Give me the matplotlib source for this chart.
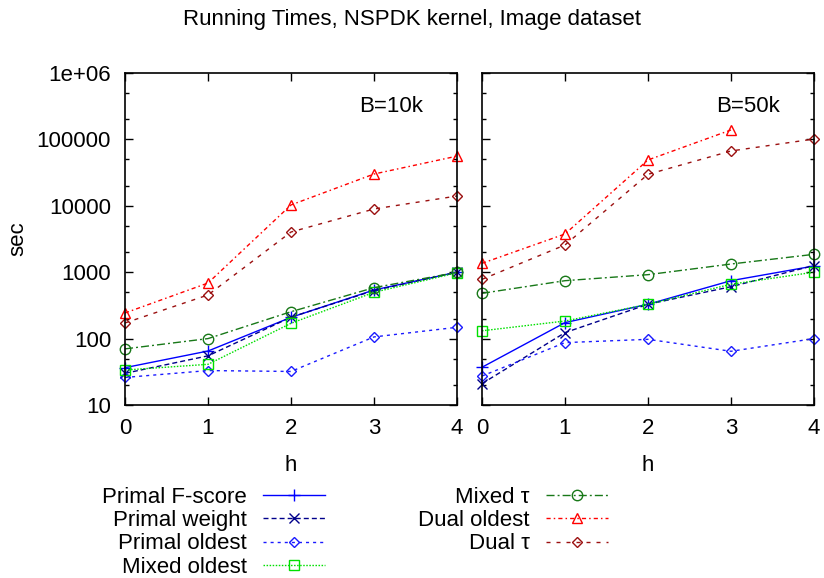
import matplotlib
matplotlib.use("Agg")
import matplotlib.pyplot as plt
import matplotlib.ticker as mticker

plt.rcParams['font.family'] = ['Liberation Sans', 'DejaVu Sans']
FS = 16

h = [0, 1, 2, 3, 4]

series_names = ["Primal F-score", "Primal weight", "Primal oldest", "Mixed oldest",
                "Mixed τ", "Dual oldest", "Dual τ"]

# B = 10k panel
b10_primal_fscore = [36.5, 65, 209, 540, 1000]
b10_primal_weight = [30, 55, 210, 530, 1000]
b10_primal_oldest = [26, 33, 32, 106, 148]
b10_mixed_oldest = [33.6, 41, 170, 498, 980]
b10_mixed_tau = [70, 100, 254, 585, 995]
b10_dual_oldest = [243, 687, 10300, 30100, 56000]
b10_dual_tau = [172, 454, 4030, 8950, 14050]

# B = 50k panel
b50_primal_fscore = [37, 174, 329, 745, 1240]
b50_primal_weight = [21, 123, 329, 605, 1260]
b50_primal_oldest = [27.3, 87, 97.5, 64.4, 100]
b50_mixed_oldest = [131, 184, 329, 658, 1000]
b50_mixed_tau = [481, 745, 918, 1328, 1859]
b50_dual_oldest = [1360, 3760, 49000, 138700]
b50_dual_tau = [780, 2570, 29800, 66900, 101400]

panels = [
    ("B=10k", [b10_primal_fscore, b10_primal_weight, b10_primal_oldest, b10_mixed_oldest,
               b10_mixed_tau, b10_dual_oldest, b10_dual_tau]),
    ("B=50k", [b50_primal_fscore, b50_primal_weight, b50_primal_oldest, b50_mixed_oldest,
               b50_mixed_tau, b50_dual_oldest, b50_dual_tau]),
]

styles = [
    dict(color="#0000ff", linestyle="-", marker="+", ms=8),
    dict(color="#00008b", linestyle=(0, (3.6, 2.2)), marker="x", ms=6.5),
    dict(color="#1a1aff", linestyle=(0, (2.2, 2.9)), marker="D", ms=5),
    dict(color="#00e000", linestyle=(0, (1.1, 1.1)), marker="s", ms=7.5),
    dict(color="#187818", linestyle=(0, (5.8, 2.2, 1.4, 2.2)), marker="o", ms=7.5),
    dict(color="#ff0000", linestyle=(0, (3, 2.2, 1.1, 2.2)), marker="^", ms=7.5),
    dict(color="#9b1010", linestyle=(0, (2.9, 4.3)), marker="D", ms=5),
]

fig = plt.figure(figsize=(8.24, 5.78), dpi=100)
ax_w = 332 / 824
ax_h = 332 / 578
bottom = 1 - 405 / 578
axes = [fig.add_axes([125 / 824, bottom, ax_w, ax_h]),
        fig.add_axes([482 / 824, bottom, ax_w, ax_h])]

handles = []
for pi, (ax, (btxt, data)) in enumerate(zip(axes, panels)):
    for si, (vals, st) in enumerate(zip(data, styles)):
        ln, = ax.plot(h[:len(vals)], vals, color=st["color"], linestyle=st["linestyle"],
                      lw=1.0, marker=st["marker"], markersize=st["ms"],
                      markeredgewidth=1.0, markerfacecolor="none",
                      markeredgecolor=st["color"], label=series_names[si], clip_on=False)
        if pi == 0:
            handles.append(ln)
    ax.set_yscale("log")
    ax.set_ylim(10, 1e6)
    ax.set_xlim(0, 4)
    ax.set_xticks(h)
    ax.yaxis.set_major_locator(mticker.LogLocator(base=10, numticks=10))
    ax.yaxis.set_minor_locator(mticker.LogLocator(base=10, subs=(2.0, 5.0), numticks=10))
    ax.yaxis.set_minor_formatter(mticker.NullFormatter())
    ax.tick_params(which="both", direction="in", top=True, right=True, labelsize=FS,
                   width=1.0, colors="black")
    ax.tick_params(which="major", length=6)
    ax.tick_params(which="minor", length=3)
    ax.tick_params(axis="x", pad=9)
    ax.tick_params(axis="y", pad=10)
    for sp in ax.spines.values():
        sp.set_linewidth(1.2)
    ax.set_xlabel("h", fontsize=FS, labelpad=12)
    ax.text(0.898, 0.898, btxt, transform=ax.transAxes, ha="right", va="center", fontsize=FS)

labels_map = {10: "10", 100: "100", 1000: "1000", 10000: "10000", 100000: "100000", 1000000: "1e+06"}
axes[0].yaxis.set_major_formatter(mticker.FuncFormatter(lambda v, p: labels_map.get(int(round(v)), "")))
axes[1].yaxis.set_major_formatter(mticker.NullFormatter())
axes[0].set_ylabel("sec", fontsize=FS, labelpad=6)

fig.suptitle("Running Times, NSPDK kernel, Image dataset", fontsize=FS, y=1 - 20 / 578, va="center")

leg_kw = dict(markerfirst=False, frameon=False, fontsize=FS, handlelength=2.8,
              handletextpad=0.72, labelspacing=0.10, borderpad=0, borderaxespad=0,
              loc="upper right")
fig.legend(handles=handles[:4], labels=series_names[:4],
           bbox_to_anchor=(325 / 824, 1 - 487 / 578), **leg_kw)
fig.legend(handles=handles[4:], labels=series_names[4:],
           bbox_to_anchor=(608 / 824, 1 - 487 / 578), **leg_kw)

fig.savefig("out.png", dpi=100)
